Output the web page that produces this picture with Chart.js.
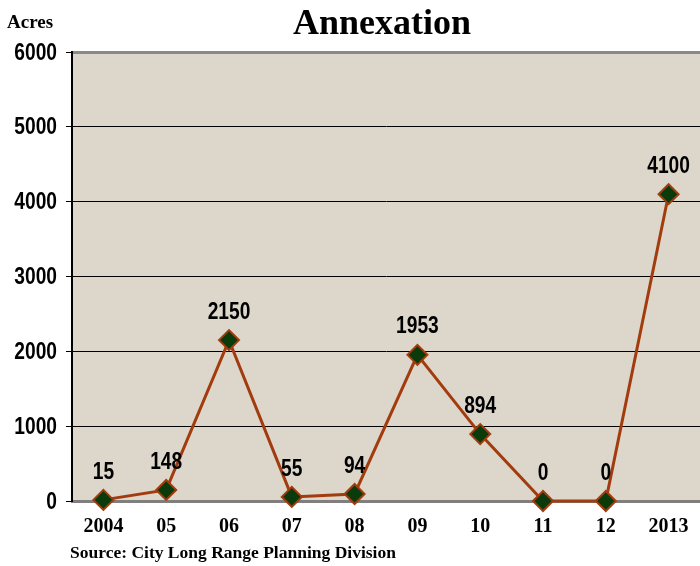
<!DOCTYPE html>
<html lang="en">
<head>
<meta charset="UTF-8">
<title>Annexation</title>
<script src="https://cdn.jsdelivr.net/npm/chart.js@4.4.5/dist/chart.umd.min.js"></script>
<style>
  html, body { margin: 0; padding: 0; background: #fff; }
  #wrap { width: 700px; height: 566px; }
</style>
</head>
<body>
<div id="wrap"><canvas id="myChart" width="700" height="566"></canvas></div>
<script>
    const years = ['2004', '05', '06', '07', '08', '09', '10', '11', '12', '2013'];
    const acres = [15, 148, 2150, 55, 94, 1953, 894, 0, 0, 4100];
    const yTicks = [0, 1000, 2000, 3000, 4000, 5000, 6000];

    const numFont = "'Liberation Sans', Arial, sans-serif";
    const serifFont = "'Liberation Serif', 'DejaVu Serif', serif";
    const squeeze = 0.8; // numbers in the original are a narrow face

    // draw text squeezed horizontally
    function narrowText(ctx, txt, x, y, align) {
        ctx.save();
        ctx.translate(x, y);
        ctx.scale(squeeze, 1);
        ctx.textAlign = align;
        ctx.fillText(txt, 0, 0);
        ctx.restore();
    }

    // background, title, unit label, source line, tick + point labels
    const decor = {
        id: 'decor',
        beforeDraw(chart) {
            const ctx = chart.ctx;
            const a = chart.chartArea;
            ctx.save();
            ctx.fillStyle = '#ddd6ca';
            ctx.fillRect(a.left, a.top, a.right - a.left, a.bottom - a.top);
            ctx.restore();
        },
        afterDraw(chart) {
            const ctx = chart.ctx;
            const a = chart.chartArea;
            ctx.save();
            ctx.fillStyle = '#000';
            ctx.textBaseline = 'alphabetic';

            ctx.font = "bold 36px " + serifFont;
            ctx.textAlign = 'center';
            ctx.fillText('Annexation', (a.left + a.right) / 2 - 4, 34);

            ctx.font = "bold 19px " + serifFont;
            ctx.textAlign = 'left';
            ctx.fillText('Acres', 7, 28);

            ctx.font = "bold 17.5px " + serifFont;
            ctx.fillText('Source: City Long Range Planning Division', 70, 558);

            ctx.font = "bold 24px " + numFont;
            ctx.textBaseline = 'middle';
            const y = chart.scales.y;
            yTicks.forEach(v => {
                narrowText(ctx, String(v), 57, y.getPixelForValue(v) + 1, 'right');
            });

            const meta = chart.getDatasetMeta(0);
            ctx.textBaseline = 'bottom';
            meta.data.forEach((pt, i) => {
                narrowText(ctx, String(acres[i]), pt.x, pt.y - 16, 'center');
            });
            ctx.restore();
        }
    };

    const config = {
        type: 'line',
        data: {
            labels: years,
            datasets: [{
                data: acres,
                borderColor: '#a23c0e',
                borderWidth: 3,
                tension: 0,
                pointStyle: 'rectRot',
                pointRadius: 10,
                pointBackgroundColor: '#0b3a0b',
                pointBorderColor: '#a23c0e',
                pointBorderWidth: 2,
                clip: false
            }]
        },
        options: {
            responsive: false,
            animation: false,
            layout: {
                autoPadding: false,
                padding: { top: 52, right: 0, bottom: 0, left: 0 }
            },
            scales: {
                x: {
                    offset: true,
                    grid: { display: false, drawTicks: false },
                    border: { color: '#7f7f7f', width: 3 },
                    ticks: {
                        color: '#000',
                        padding: 14,
                        font: { family: serifFont, size: 20, weight: 'bold' }
                    },
                    afterFit(scale) {
                        scale.height = 65;
                        scale.paddingLeft = 0;
                        scale.paddingRight = 0;
                    }
                },
                y: {
                    min: 0,
                    max: 6000,
                    afterBuildTicks(scale) {
                        scale.ticks = yTicks.map(v => ({ value: v }));
                    },
                    grid: {
                        color: c => c.tick && c.tick.value === 6000 ? '#8a8a8a' : (c.tick && c.tick.value === 0 ? 'rgba(0,0,0,0)' : '#000'),
                        lineWidth: c => c.tick && c.tick.value === 6000 ? 3 : 1,
                        tickColor: '#000',
                        tickLength: 6,
                        tickWidth: 1
                    },
                    border: { color: '#000', width: 2 },
                    ticks: { display: false },
                    afterFit(scale) {
                        scale.width = 72;
                        scale.paddingTop = 0;
                        scale.paddingBottom = 0;
                    }
                }
            },
            plugins: {
                legend: { display: false },
                title: { display: false },
                tooltip: { enabled: false }
            }
        },
        plugins: [decor]
    };

    const ctx = document.getElementById('myChart').getContext('2d');
    const myChart = new Chart(ctx, config);
</script>
</body>
</html>
